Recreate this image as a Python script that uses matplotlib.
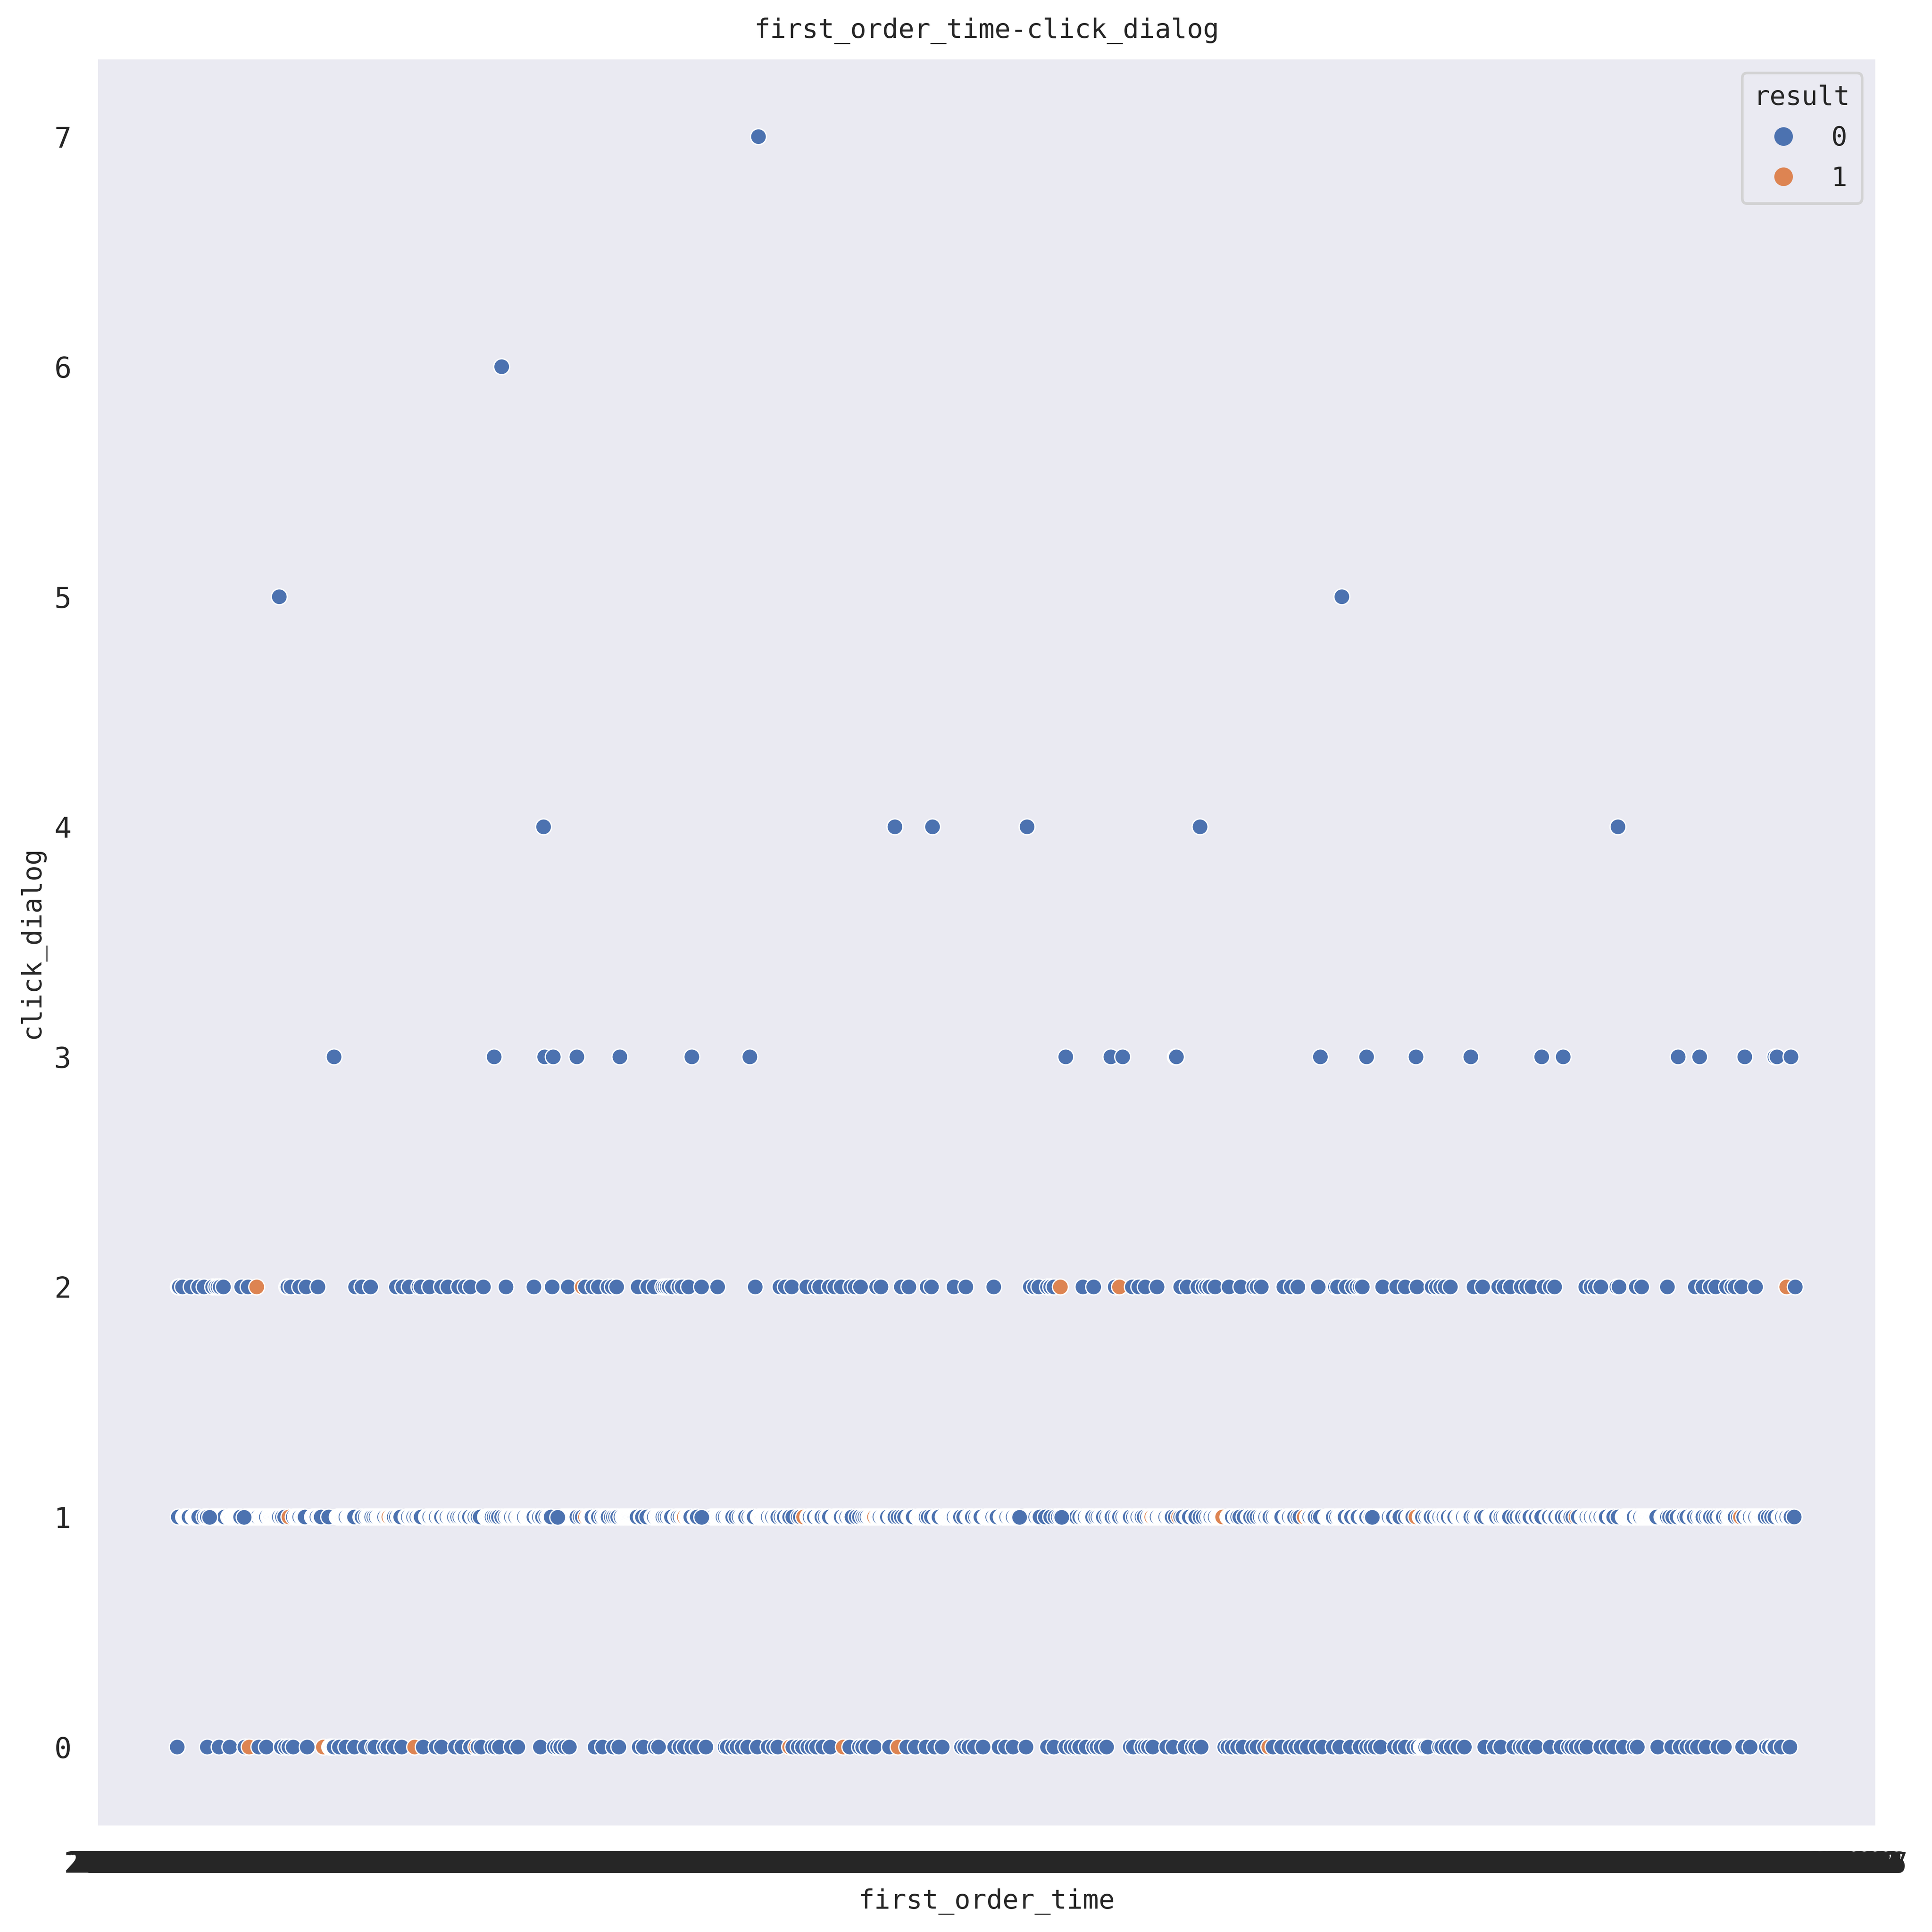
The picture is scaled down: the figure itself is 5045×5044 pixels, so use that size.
import numpy as np
import matplotlib
matplotlib.use("Agg")
import matplotlib.pyplot as plt
import seaborn as sns

sns.set_theme(style="dark", palette="deep")
plt.rcParams['font.family'] = ['DejaVu Sans Mono']

n_times = 1508

# click_dialog = 0
row0_blue = [1, 29, 40, 50, 64, 77, 84, 98, 102, 105, 109, 122, 143, 144, 145, 146, 147, 152, 158, 166, 176, 183, 185,
             194, 197, 203, 210, 230, 242, 247, 260, 266, 274, 281, 284, 294, 297, 301, 312, 318, 339, 352, 355, 358,
             362, 366, 390, 397, 407, 412, 431, 435, 446, 449, 464, 469, 473, 480, 485, 493, 511, 513, 518, 522, 527,
             532, 541, 551, 556, 560, 574, 579, 583, 588, 592, 596, 602, 609, 627, 636, 639, 643, 650, 664, 680, 688,
             698, 706, 713, 731, 734, 738, 743, 751, 766, 772, 779, 791, 811, 817, 828, 833, 837, 841, 847, 854, 857,
             861, 866, 888, 891, 899, 902, 905, 909, 922, 928, 939, 946, 949, 954, 976, 979, 983, 988, 993, 1002, 1006,
             1013, 1021, 1029, 1037, 1042, 1047, 1053, 1061, 1067, 1077, 1083, 1093, 1102, 1108, 1112, 1116, 1121, 1134,
             1139, 1144, 1152, 1156, 1159, 1160, 1161, 1162, 1163, 1165, 1176, 1178, 1182, 1187, 1193, 1199, 1218, 1227,
             1233, 1245, 1251, 1254, 1259, 1266, 1279, 1289, 1296, 1299, 1303, 1308, 1313, 1326, 1332, 1338, 1347, 1357,
             1360, 1379, 1392, 1400, 1406, 1411, 1416, 1424, 1435, 1441, 1458, 1465, 1480, 1483, 1488, 1494, 1502]
row0_orange = [68, 137, 222, 279, 571, 621, 672, 1017, 1487]

# click_dialog = 1
row1_blue = [2, 7, 8, 9, 10, 11, 12, 16, 17, 18, 19, 20, 21, 26, 28, 29, 33, 34, 35, 36, 37, 38, 39, 40, 41, 42, 43, 44, 45,
             49, 50, 51, 52, 53, 54, 55, 56, 57, 58, 59, 60, 64, 65, 66, 67, 68, 69, 70, 71, 72, 73, 74, 75, 76, 78, 79,
             80, 81, 82, 83, 84, 86, 87, 88, 89, 90, 91, 92, 93, 94, 95, 96, 98, 99, 101, 109, 111, 112, 113, 114, 115,
             117, 118, 119, 120, 127, 128, 129, 130, 131, 133, 134, 135, 142, 150, 151, 152, 153, 154, 155, 156, 157,
             158, 160, 161, 162, 163, 164, 165, 166, 172, 173, 176, 178, 179, 180, 181, 182, 184, 186, 188, 189, 190,
             191, 192, 193, 194, 196, 197, 200, 201, 202, 203, 205, 207, 208, 209, 214, 215, 216, 218, 219, 220, 221,
             223, 224, 226, 227, 228, 233, 234, 235, 236, 238, 239, 240, 241, 242, 244, 245, 246, 247, 250, 251, 252,
             254, 255, 256, 257, 258, 259, 261, 262, 264, 266, 267, 268, 269, 271, 272, 273, 276, 277, 278, 280, 281,
             283, 288, 289, 290, 291, 292, 293, 294, 296, 298, 300, 303, 306, 308, 309, 310, 311, 312, 314, 315, 316,
             318, 319, 320, 321, 322, 323, 324, 326, 327, 328, 329, 330, 331, 332, 333, 336, 337, 338, 340, 341, 344,
             346, 347, 348, 349, 359, 360, 361, 362, 363, 364, 365, 366, 367, 368, 369, 370, 371, 372, 373, 376, 378,
             383, 384, 385, 386, 387, 391, 392, 393, 396, 398, 399, 400, 401, 402, 405, 407, 409, 411, 414, 416, 417,
             418, 419, 420, 421, 422, 423, 424, 425, 426, 427, 428, 429, 433, 434, 438, 443, 444, 445, 447, 448, 449,
             450, 451, 452, 453, 455, 457, 459, 460, 461, 465, 466, 467, 469, 471, 472, 475, 476, 477, 478, 479, 483,
             484, 485, 498, 500, 502, 503, 504, 505, 506, 507, 508, 509, 511, 513, 514, 515, 516, 517, 518, 521, 524,
             526, 527, 528, 529, 530, 533, 535, 536, 537, 538, 542, 543, 544, 545, 546, 547, 548, 549, 550, 551, 553,
             554, 555, 557, 558, 559, 560, 563, 565, 566, 569, 570, 571, 574, 579, 581, 588, 589, 590, 592, 593, 594,
             597, 598, 599, 600, 601, 604, 606, 607, 608, 612, 613, 614, 615, 616, 617, 618, 619, 622, 623, 624, 626,
             627, 628, 629, 633, 636, 639, 641, 643, 645, 646, 647, 648, 649, 652, 653, 654, 655, 657, 658, 659, 660,
             661, 662, 665, 666, 667, 668, 669, 672, 675, 678, 682, 683, 684, 685, 686, 690, 691, 692, 693, 694, 695,
             696, 697, 698, 700, 703, 707, 708, 709, 710, 714, 715, 716, 717, 718, 719, 720, 721, 722, 723, 724, 726,
             727, 728, 729, 730, 733, 737, 738, 739, 740, 741, 744, 746, 747, 748, 749, 753, 754, 755, 756, 757, 758,
             759, 760, 762, 763, 764, 768, 769, 770, 771, 772, 773, 775, 776, 777, 778, 779, 781, 782, 783, 784, 790,
             791, 792, 793, 794, 795, 796, 797, 798, 799, 800, 802, 803, 804, 809, 814, 818, 821, 823, 826, 827, 828,
             829, 830, 831, 832, 833, 834, 835, 836, 837, 838, 841, 844, 845, 846, 848, 849, 850, 851, 852, 853, 856,
             858, 860, 861, 862, 863, 866, 868, 869, 870, 871, 874, 876, 877, 878, 881, 883, 884, 885, 886, 887, 888,
             891, 893, 894, 895, 897, 898, 899, 901, 904, 906, 907, 910, 911, 912, 913, 915, 916, 917, 918, 919, 920,
             921, 923, 924, 925, 926, 927, 930, 935, 937, 941, 942, 943, 947, 948, 949, 953, 956, 959, 961, 962, 963,
             965, 966, 967, 969, 970, 971, 972, 973, 979, 980, 981, 982, 983, 986, 987, 988, 990, 994, 998, 999, 1000,
             1003, 1006, 1009, 1011, 1012, 1013, 1014, 1016, 1017, 1018, 1021, 1023, 1024, 1025, 1026, 1027, 1028, 1029,
             1033, 1034, 1035, 1036, 1038, 1039, 1040, 1041, 1044, 1046, 1053, 1054, 1055, 1057, 1058, 1059, 1060, 1063,
             1065, 1070, 1071, 1072, 1073, 1074, 1075, 1076, 1077, 1080, 1082, 1083, 1084, 1085, 1086, 1087, 1088, 1092,
             1093, 1094, 1098, 1099, 1100, 1104, 1105, 1106, 1107, 1108, 1111, 1112, 1115, 1116, 1117, 1118, 1119, 1120,
             1121, 1122, 1123, 1124, 1125, 1126, 1127, 1128, 1129, 1131, 1132, 1133, 1137, 1138, 1139, 1144, 1147, 1148,
             1149, 1150, 1151, 1158, 1159, 1160, 1163, 1165, 1166, 1167, 1168, 1171, 1174, 1175, 1176, 1178, 1179, 1180,
             1182, 1183, 1184, 1187, 1188, 1189, 1190, 1193, 1194, 1195, 1196, 1197, 1198, 1200, 1201, 1202, 1203, 1204,
             1205, 1208, 1210, 1211, 1212, 1213, 1214, 1215, 1218, 1222, 1223, 1224, 1225, 1226, 1227, 1228, 1229, 1232,
             1233, 1235, 1237, 1238, 1239, 1240, 1241, 1245, 1248, 1251, 1252, 1253, 1256, 1258, 1259, 1260, 1264, 1265,
             1266, 1269, 1270, 1271, 1276, 1277, 1278, 1281, 1282, 1283, 1284, 1287, 1288, 1289, 1290, 1293, 1296, 1297,
             1298, 1300, 1305, 1309, 1310, 1311, 1312, 1313, 1315, 1316, 1317, 1319, 1320, 1321, 1322, 1324, 1325, 1326,
             1328, 1329, 1330, 1331, 1335, 1336, 1337, 1338, 1342, 1347, 1348, 1349, 1350, 1351, 1352, 1353, 1354, 1355,
             1356, 1357, 1360, 1361, 1362, 1363, 1365, 1366, 1367, 1368, 1369, 1370, 1371, 1372, 1373, 1374, 1375, 1376,
             1377, 1378, 1383, 1384, 1385, 1386, 1387, 1388, 1390, 1393, 1397, 1401, 1402, 1403, 1404, 1406, 1410, 1411,
             1412, 1413, 1416, 1418, 1419, 1420, 1421, 1424, 1426, 1427, 1428, 1431, 1434, 1437, 1438, 1439, 1440, 1443,
             1445, 1446, 1447, 1448, 1449, 1450, 1451, 1454, 1459, 1462, 1463, 1464, 1465, 1467, 1468, 1469, 1470, 1472,
             1473, 1474, 1475, 1476, 1477, 1478, 1479, 1482, 1485, 1488, 1492, 1493, 1494, 1495, 1497, 1498, 1499, 1501,
             1502, 1503, 1506]
row1_orange = [105, 198, 381, 473, 584, 650, 908, 933, 974, 1050, 1154, 1303, 1456]
# these sit on top of their neighbours in the picture
row1_top = [31, 63, 355, 489, 785, 824, 1113]

# click_dialog = 2
row2_blue = [2, 3, 6, 14, 21, 26, 34, 37, 39, 41, 44, 61, 67, 103, 104, 107, 115, 121, 132, 167, 173, 181, 205, 211, 217,
             226, 228, 236, 247, 253, 263, 269, 274, 286, 307, 333, 350, 365, 381, 388, 393, 402, 406, 410, 430, 439,
             445, 453, 455, 457, 459, 462, 468, 471, 477, 489, 504, 539, 562, 567, 573, 587, 595, 599, 608, 613, 619,
             628, 632, 637, 652, 656, 675, 682, 699, 703, 724, 735, 761, 795, 799, 803, 811, 814, 817, 844, 854, 874,
             890, 896, 902, 913, 935, 941, 951, 956, 959, 962, 967, 980, 991, 1003, 1006, 1010, 1031, 1038, 1044, 1063,
             1079, 1081, 1089, 1095, 1099, 1102, 1104, 1123, 1136, 1144, 1155, 1169, 1173, 1177, 1181, 1186, 1208, 1216,
             1231, 1236, 1242, 1252, 1257, 1262, 1273, 1279, 1283, 1312, 1317, 1321, 1326, 1341, 1343, 1359, 1364, 1388,
             1414, 1421, 1428, 1433, 1443, 1448, 1451, 1457, 1470, 1507]
row2_orange = [75, 378, 823, 878, 1499]

row3_blue = [147, 296, 343, 351, 373, 413, 480, 534, 828, 870, 881, 930, 931, 1065, 1108, 1154, 1205, 1271, 1291, 1398,
             1418, 1460, 1488, 1490, 1503]
row4_blue = [342, 669, 704, 792, 953, 1342]
row5_blue = [96, 1085]
row6_blue = [303]
row7_blue = [542]

y_ticks = [0, 1, 2, 3, 4, 5, 6, 7]
result_levels = ['0', '1']
blue = '#4C72B0'
orange = '#DD8452'

# the time labels all overlap into a solid band, nothing of them can be read
time_labels = [f"2019-{1 + i % 9}-{1 + i % 9} {1 + i % 9}:{10 + i % 50}" for i in range(n_times)]

blue_rows = [row0_blue, row1_blue, row2_blue, row3_blue, row4_blue, row5_blue, row6_blue, row7_blue]
orange_rows = {0: row0_orange, 1: row1_orange, 2: row2_orange}

xs, ys, cs = [], [], []
for level, values in enumerate(blue_rows):
    xs += values
    ys += [level] * len(values)
    cs += [blue] * len(values)
for level, values in orange_rows.items():
    xs += values
    ys += [level] * len(values)
    cs += [orange] * len(values)
order = np.argsort(xs, kind='stable')
xs = np.array(xs)[order]
ys = np.array(ys)[order]
cs = np.array(cs)[order]

W, H = 5045, 5044
fig = plt.figure(figsize=(W / 500, H / 500), dpi=500)
ax = fig.add_axes([256 / W, 1 - 4766 / H, (4897 - 256) / W, (4766 - 155) / H])
ax.set_facecolor('#EAEAF2')

ax.scatter(xs, ys, c=cs, s=36, edgecolors='w', linewidths=0.48, zorder=2)
ax.scatter(row1_top, [1] * len(row1_top), c=blue, s=36, edgecolors='w', linewidths=0.48, zorder=3)

ax.set_xlim(-72.7, 1581.5)
ax.set_ylim(-0.341, 7.336)
ax.set_xticks(range(n_times), labels=time_labels, fontsize=10.8)
ax.set_yticks(y_ticks, labels=[str(v) for v in y_ticks], fontsize=10.8)
ax.tick_params(axis='x', length=0, pad=9.5, colors='.15')
ax.tick_params(axis='y', length=0, pad=10, colors='.15')
ax.grid(False)
for side in ax.spines.values():
    side.set_visible(False)

ax.set_title('first_order_time-click_dialog', fontsize=10, color='.15', pad=8)
ax.set_xlabel('first_order_time', fontsize=10, color='.15')
ax.set_ylabel('click_dialog', fontsize=10, color='.15')
ax.xaxis.set_label_coords(0.5, -0.0355)
ax.yaxis.set_label_coords(-0.0296, 0.5)

handles = [plt.Line2D([], [], ls='', marker='o', ms=7, mfc=c, mec=c, mew=0) for c in (blue, orange)]
leg = ax.legend(handles, result_levels, title='result', loc='upper right', fontsize=10, title_fontsize=10,
                frameon=True, facecolor='#EAEAF2', edgecolor='.8', fancybox=True, borderaxespad=0.5, borderpad=0.45,
                labelspacing=0.56)
leg.get_frame().set_linewidth(1.0)
leg.get_title().set_color('.15')
for t in leg.get_texts():
    t.set_color('.15')

fig.savefig('out.png', dpi=500)
